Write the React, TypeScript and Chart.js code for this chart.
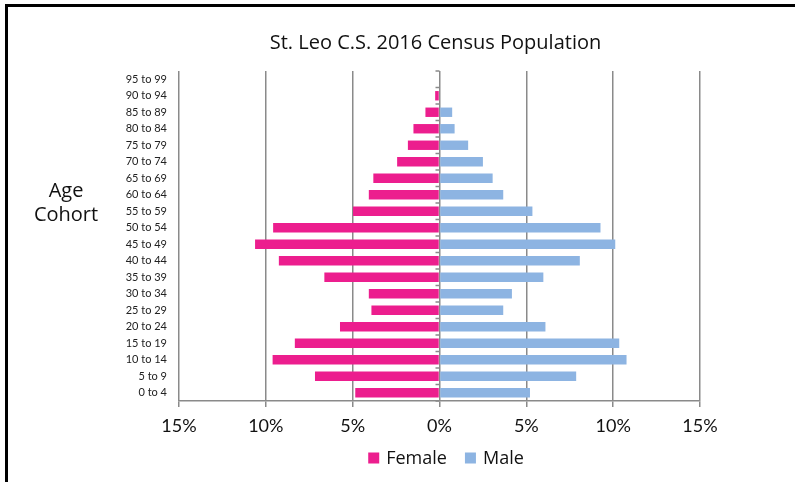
import React, { useEffect, useRef } from "react";
import { Chart, registerables } from "chart.js";

Chart.register(...registerables);

const ageCohorts = [
  "0 to 4", "5 to 9", "10 to 14", "15 to 19", "20 to 24", "25 to 29", "30 to 34",
  "35 to 39", "40 to 44", "45 to 49", "50 to 54", "55 to 59", "60 to 64", "65 to 69",
  "70 to 74", "75 to 79", "80 to 84", "85 to 89", "90 to 94", "95 to 99",
];
const femalePct = [4.85, 7.17, 9.61, 8.33, 5.73, 3.92, 4.07, 6.63, 9.25, 10.62, 9.58, 4.98, 4.07, 3.81, 2.44, 1.82, 1.5, 0.81, 0.25, 0];
const malePct = [5.21, 7.87, 10.77, 10.35, 6.1, 3.67, 4.17, 5.98, 8.08, 10.12, 9.27, 5.35, 3.67, 3.06, 2.5, 1.65, 0.87, 0.73, 0, 0];
const xTickValues = [-15, -10, -5, 0, 5, 10, 15];
const chartTitle = "St. Leo C.S. 2016 Census Population";
const axisTitleLines = ["Age", "Cohort"];

const FONT = "Lato, 'Open Sans', sans-serif";
const FONT2 = "'Open Sans', Lato, sans-serif";

const overlayPlugin = {
  id: "overlay",
  afterDatasetsDraw(chart: any) {
    const { ctx, scales } = chart;
    const x = scales.x;
    const y = scales.y;
    const x0 = x.getPixelForValue(0);
    const n = ageCohorts.length;
    const step = Math.abs(y.getPixelForValue(1) - y.getPixelForValue(0));
    ctx.save();
    ctx.strokeStyle = "#8a8a8a";
    ctx.lineWidth = 1.5;
    for (let i = 0; i <= n; i++) {
      const py = y.getPixelForValue(i) + step / 2;
      ctx.beginPath();
      ctx.moveTo(x0 - 4, py);
      ctx.lineTo(x0, py);
      ctx.stroke();
    }
    ctx.restore();
  },
  afterDraw(chart: any) {
    const { ctx, chartArea } = chart;
    ctx.save();
    ctx.fillStyle = "#111";
    ctx.textAlign = "center";
    ctx.textBaseline = "middle";
    ctx.font = `20px ${FONT2}`;
    ctx.fillText(chartTitle, (chartArea.left + chartArea.right) / 2 - 4, chartArea.top - 28);
    ctx.fillText(axisTitleLines[0], 66, 191);
    ctx.fillText(axisTitleLines[1], 66, 215);

    // legend
    const box = 11;
    const gapText = 7;
    const gapItem = 18;
    ctx.font = `18px ${FONT2}`;
    const items = chart.data.datasets.map((d: any) => ({
      label: d.label,
      color: d.backgroundColor,
      w: ctx.measureText(d.label).width,
    }));
    const total = items.reduce((s: number, it: any) => s + box + gapText + it.w, 0) + gapItem * (items.length - 1);
    const cx = 446;
    const cy = 458;
    let px = cx - total / 2;
    ctx.textAlign = "left";
    for (const it of items) {
      ctx.fillStyle = it.color;
      ctx.fillRect(px, cy - box / 2, box, box);
      ctx.fillStyle = "#111";
      ctx.fillText(it.label, px + box + gapText, cy + 1);
      px += box + gapText + it.w + gapItem;
    }
    ctx.restore();
  },
};

export default function App() {
  const ref = useRef<HTMLCanvasElement>(null);
  useEffect(() => {
    if (!ref.current) return;
    const chart = new Chart(ref.current, {
      type: "bar",
      data: {
        labels: ageCohorts,
        datasets: [
          {
            label: "Female",
            data: femalePct.map((v) => -v),
            backgroundColor: "#EC1E8E",
            borderWidth: 0,
            categoryPercentage: 0.57,
            barPercentage: 1,
          },
          {
            label: "Male",
            data: malePct,
            backgroundColor: "#8DB4E2",
            borderWidth: 0,
            categoryPercentage: 0.57,
            barPercentage: 1,
          },
        ],
      },
      options: {
        indexAxis: "y",
        responsive: false,
        animation: false,
        devicePixelRatio: 1,
        layout: { padding: { top: 71, right: 95, left: 0, bottom: 41 } },
        plugins: {
          title: { display: false },
          tooltip: { enabled: false },
          legend: { display: false },
        },
        scales: {
          x: {
            stacked: true,
            min: -15,
            max: 15,
            afterBuildTicks: (s: any) => {
              s.ticks = xTickValues.map((v) => ({ value: v }));
            },
            afterFit: (s: any) => {
              s.height = 40;
            },
            grid: {
              color: "#8a8a8a",
              lineWidth: 1.5,
              drawTicks: true,
              tickLength: 6,
            },
            border: { display: true, color: "#8a8a8a", width: 1.5 },
            ticks: {
              padding: 8,
              color: "#111",
              font: { family: FONT, size: 18 },
              callback: (v: any) => `${Math.abs(Number(v))}%`,
              maxRotation: 0,
            },
          },
          y: {
            stacked: true,
            reverse: true,
            afterFit: (s: any) => {
              s.width = 179;
            },
            grid: { display: false, drawTicks: false },
            border: { display: false },
            ticks: {
              padding: 12,
              color: "#222",
              font: { family: FONT, size: 11 },
              autoSkip: false,
            },
          },
        },
      },
      plugins: [overlayPlugin],
    } as any);
    return () => chart.destroy();
  }, []);

  return (
    <div style={{ position: "absolute", left: 0, top: 0, width: 795, height: 482, background: "#fff", overflow: "hidden" }}>
      <div
        style={{
          position: "absolute",
          left: 5,
          top: 4,
          width: 800,
          height: 490,
          borderTop: "3px solid #000",
          borderLeft: "3px solid #000",
        }}
      />
      <canvas ref={ref} width={795} height={482} style={{ position: "absolute", left: 0, top: 0, width: 795, height: 482 }} />
    </div>
  );
}
